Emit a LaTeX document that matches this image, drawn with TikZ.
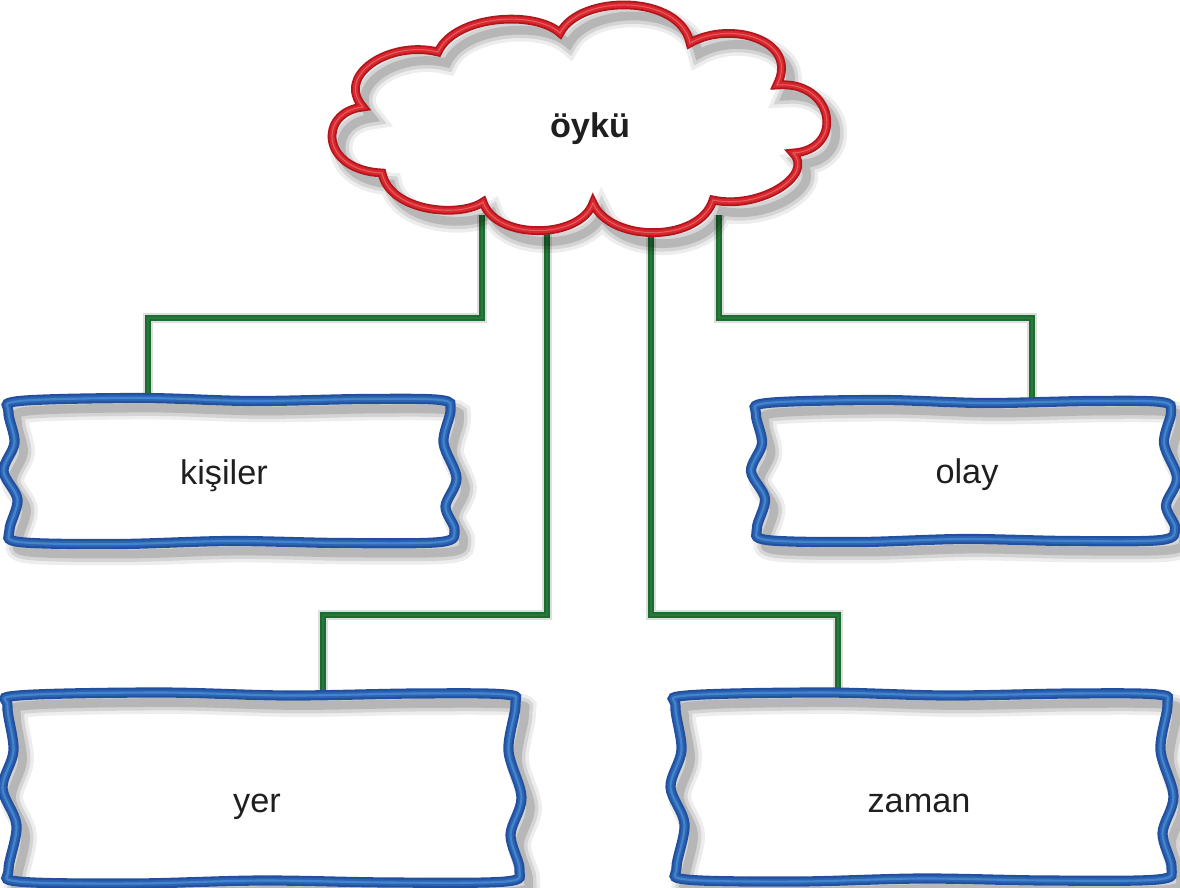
\documentclass[tikz,border=0pt]{standalone}
\usepackage{fontspec}
\setmainfont{Liberation Sans}
\usetikzlibrary{calc}
\definecolor{redD}{HTML}{B0161C}
\definecolor{redL}{HTML}{D9272D}
\definecolor{greenD}{HTML}{1E6A30}
\definecolor{greenL}{HTML}{2F8A44}
\definecolor{blueD}{HTML}{21509F}
\definecolor{blueM}{HTML}{2E63B4}
\definecolor{blueL}{HTML}{5AB0EA}
\newcommand{\CloudPath}[1]{%
  \path[#1] (560,33) .. controls (580,-6) and (680,-6) .. (690,43)
    .. controls (730,20) and (800,40) .. (777,85)
    .. controls (835,80) and (845,150) .. (793,153)
    .. controls (815,175) and (760,210) .. (713,200)
    .. controls (700,243) and (610,243) .. (593,203)
    .. controls (580,240) and (495,240) .. (483,202)
    .. controls (460,218) and (390,212) .. (382,173)
    .. controls (320,170) and (318,112) .. (363,107)
    .. controls (335,75) and (390,40) .. (438,52)
    .. controls (455,15) and (535,10) .. (560,33) -- cycle;}
% #1 cx, #2 cy, #3 w, #4 h, #5 style
\newcommand{\FramePath}[5]{%
  \path[#5] plot[smooth cycle, tension=0.55] coordinates {
    ({#1-#3/2+12},{#2-#4/2+1}) ({#1-#3/2+0.3*#3},{#2-#4/2-2}) ({#1-#3/2+0.55*#3},{#2-#4/2+1})
    ({#1-#3/2+0.8*#3},{#2-#4/2-1}) ({#1+#3/2-12},{#2-#4/2})
    ({#1+#3/2-2},{#2-#4/2+10}) ({#1+#3/2-9},{#2-#4/2+0.3*#4}) ({#1+#3/2+4},{#2-#4/2+0.55*#4})
    ({#1+#3/2-7},{#2-#4/2+0.75*#4}) ({#1+#3/2+2},{#2+#4/2-12})
    ({#1+#3/2-12},{#2+#4/2}) ({#1-#3/2+0.75*#3},{#2+#4/2+1}) ({#1-#3/2+0.5*#3},{#2+#4/2-1})
    ({#1-#3/2+0.25*#3},{#2+#4/2+2}) ({#1-#3/2+12},{#2+#4/2})
    ({#1-#3/2+2},{#2+#4/2-12}) ({#1-#3/2+10},{#2-#4/2+0.7*#4}) ({#1-#3/2-4},{#2-#4/2+0.5*#4})
    ({#1-#3/2+7},{#2-#4/2+0.3*#4}) ({#1-#3/2+1},{#2-#4/2+12})
  };}
\newcommand{\WavyBox}[4]{%
  \FramePath{#1}{#2}{#3}{#4}{fill=white}
  \begin{scope}[shift={(9,10)}]
    \FramePath{#1}{#2}{#3}{#4}{draw=black, opacity=0.07, line width=13pt}
    \FramePath{#1}{#2}{#3}{#4}{draw=black, opacity=0.10, line width=9pt}
    \FramePath{#1}{#2}{#3}{#4}{draw=black, opacity=0.14, line width=5pt}
  \end{scope}
  \FramePath{#1}{#2}{#3}{#4}{draw=blueD, line width=5.8pt}
  \FramePath{#1}{#2}{#3}{#4}{draw=blueM, line width=3.4pt}
  \FramePath{#1}{#2}{#3}{#4}{draw=blueL, line width=1.2pt, opacity=0.45}
}
\tikzset{
  lbl/.style={anchor=base, font=\fontsize{19.5}{23}\selectfont, text=black!88},
  boxnode/.style={draw=none, inner sep=0pt, rectangle},
  conn/.style={draw=greenD, line width=3pt},
  connhi/.style={draw=greenL, line width=1pt, opacity=0.5},
  connsh/.style={draw=black, opacity=0.13, line width=6pt},
}
\begin{document}
\begin{tikzpicture}[x=0.02cm, y=-0.02cm]
\useasboundingbox (0,0) rectangle (1180,887);
% named nodes and coordinates
\node[boxnode, minimum width=8.9cm, minimum height=2.84cm] (kbox) at (230,471) {};
\node[boxnode, minimum width=8.36cm, minimum height=2.76cm] (obox) at (964,471) {};
\node[boxnode, minimum width=10.22cm, minimum height=3.74cm] (ybox) at (262,788) {};
\node[boxnode, minimum width=9.9cm, minimum height=3.7cm] (zbox) at (922,787) {};
\coordinate (c1) at (482,215);
\coordinate (c2) at (547,225);
\coordinate (c3) at (651,225);
\coordinate (c4) at (719,215);
\coordinate (e1) at (148,318);
\coordinate (e2) at (323,615);
\coordinate (e3) at (838,615);
\coordinate (e4) at (1032,318);
% connector shadows
\begin{scope}[shift={(8,8)}]
  \draw[connsh] (c1) |- (e1) -- (e1 |- kbox.north);
  \draw[connsh] (c2) |- (e2) -- (e2 |- ybox.north);
  \draw[connsh] (c3) |- (e3) -- (e3 |- zbox.north);
  \draw[connsh] (c4) |- (e4) -- (e4 |- obox.north);
\end{scope}
% connectors
\foreach \st in {conn, connhi}{
  \draw[\st] (c1) |- (e1) -- (e1 |- kbox.north);
  \draw[\st] (c2) |- (e2) -- (e2 |- ybox.north);
  \draw[\st] (c3) |- (e3) -- (e3 |- zbox.north);
  \draw[\st] (c4) |- (e4) -- (e4 |- obox.north);
}
% cloud
\CloudPath{fill=white}
\begin{scope}[shift={(9,11)}]
  \CloudPath{draw=black, opacity=0.07, line width=13pt}
  \CloudPath{draw=black, opacity=0.10, line width=9pt}
  \CloudPath{draw=black, opacity=0.14, line width=5pt}
\end{scope}
\CloudPath{draw=redD, line width=5pt}
\CloudPath{draw=redL, line width=3pt}
\CloudPath{draw=white, line width=0.6pt, opacity=0.25}
% boxes
\WavyBox{230}{471}{445}{142}
\WavyBox{964}{471}{418}{138}
\WavyBox{262}{788}{511}{187}
\WavyBox{922}{787}{495}{185}
% texts
\node[lbl, font=\bfseries\fontsize{19.5}{23}\selectfont] (oyku) at (590,137) {öykü};
\node[lbl] (kisiler) at (224,484) {kişiler};
\node[lbl] (olay) at (967,483) {olay};
\node[lbl] (yer) at (257,812) {yer};
\node[lbl] (zaman) at (919,812) {zaman};
\end{tikzpicture}
\end{document}
